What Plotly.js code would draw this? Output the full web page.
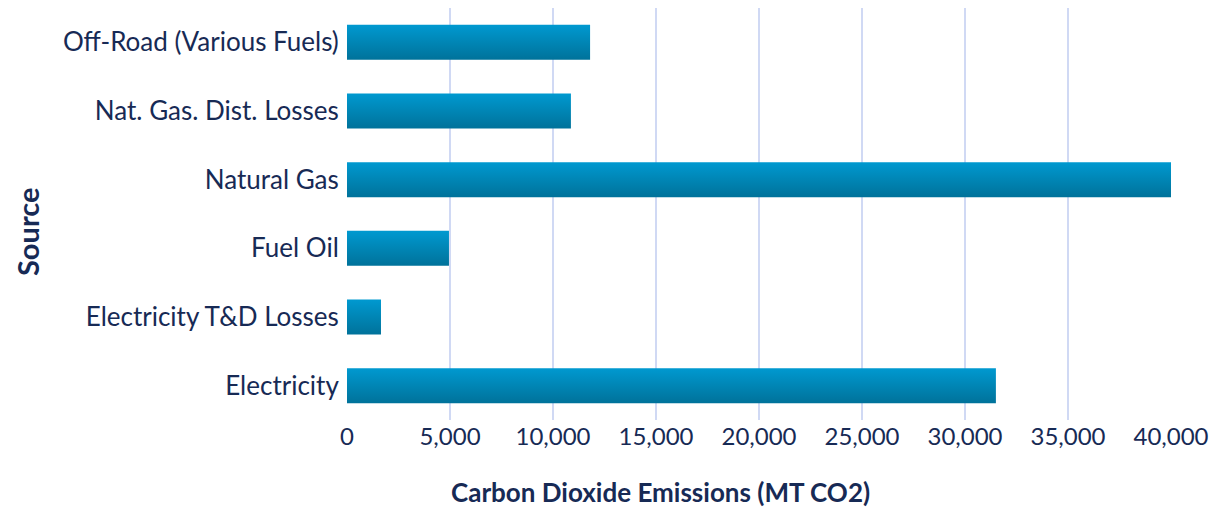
<!DOCTYPE html>
<html>
<head>
<meta charset="utf-8">
<script src="https://cdn.plot.ly/plotly-3.0.1.min.js"></script>
<style>
  html, body { margin: 0; padding: 0; background: #ffffff; }
  #chart { width: 1213px; height: 508px; }
</style>
</head>
<body>
<div id="chart"></div>
<script>
// Emission sources, bottom to top as drawn on the category axis
const sources = [
  "Electricity",
  "Electricity T&D Losses",
  "Fuel Oil",
  "Natural Gas",
  "Nat. Gas. Dist. Losses",
  "Off-Road (Various Fuels)"
];

// Carbon dioxide emissions per source (MT CO2)
const emissions = [31500, 1650, 4950, 40000, 10870, 11800];

// Value axis ticks
const xTicks = [0, 5000, 10000, 15000, 20000, 25000, 30000, 35000, 40000];
const xTickText = ["0", "5,000", "10,000", "15,000", "20,000", "25,000", "30,000", "35,000", "40,000"];

const xTitle = "Carbon Dioxide Emissions (MT CO2)";
const yTitle = "Source";

const textColor = "#172a55";
const fontFamily = "Lato, 'Open Sans', 'Noto Sans', sans-serif";

const trace = {
  type: "bar",
  orientation: "h",
  y: sources,
  x: emissions,
  marker: { color: "#0085b5", line: { width: 0 } },
  hoverinfo: "x+y",
  cliponaxis: false
};

const layout = {
  width: 1213,
  height: 508,
  margin: { l: 347, r: 42, t: 8, b: 88 },
  paper_bgcolor: "#ffffff",
  plot_bgcolor: "#ffffff",
  bargap: 0.49,
  showlegend: false,
  font: { family: fontFamily, color: textColor, size: 22 },
  xaxis: {
    range: [0, 40000],
    tickvals: xTicks,
    ticktext: xTickText,
    showgrid: true,
    gridcolor: "#d0d9f4",
    gridwidth: 2,
    zeroline: false,
    showline: false,
    ticks: "",
    tickfont: { family: fontFamily, color: textColor, size: 24 },
    fixedrange: true
  },
  yaxis: {
    type: "category",
    showgrid: false,
    zeroline: false,
    showline: false,
    ticks: "outside",
    ticklen: 2,
    tickcolor: "rgba(0,0,0,0)",
    tickfont: { family: fontFamily, color: textColor, size: 26 },
    automargin: false,
    fixedrange: true
  },
  annotations: [
    {
      text: xTitle,
      xref: "paper", yref: "paper",
      x: 0.381, y: -0.175,
      xanchor: "center", yanchor: "middle",
      showarrow: false,
      font: { family: fontFamily, color: textColor, size: 26, weight: "bold" }
    },
    {
      text: yTitle,
      xref: "paper", yref: "paper",
      x: -0.3885, y: 0.456,
      xanchor: "center", yanchor: "middle",
      textangle: -90,
      showarrow: false,
      font: { family: fontFamily, color: textColor, size: 29, weight: "bold" }
    }
  ]
};

Plotly.newPlot("chart", [trace], layout, { displayModeBar: false, staticPlot: true }).then(function (gd) {
  // Vertical shading on each bar: lighter at the top edge, darker at the bottom
  const svg = gd.querySelector(".main-svg");
  const ns = "http://www.w3.org/2000/svg";
  let defs = svg.querySelector("defs");
  if (!defs) { defs = document.createElementNS(ns, "defs"); svg.insertBefore(defs, svg.firstChild); }
  const grad = document.createElementNS(ns, "linearGradient");
  grad.setAttribute("id", "barShade");
  grad.setAttribute("x1", "0"); grad.setAttribute("y1", "0");
  grad.setAttribute("x2", "0"); grad.setAttribute("y2", "1");
  [["0%", "#0099d0"], ["100%", "#00729a"]].forEach(function (s) {
    const stop = document.createElementNS(ns, "stop");
    stop.setAttribute("offset", s[0]);
    stop.setAttribute("stop-color", s[1]);
    grad.appendChild(stop);
  });
  defs.appendChild(grad);
  gd.querySelectorAll(".bars .point path").forEach(function (p) {
    p.style.fill = "url(#barShade)";
  });
});
</script>
</body>
</html>
